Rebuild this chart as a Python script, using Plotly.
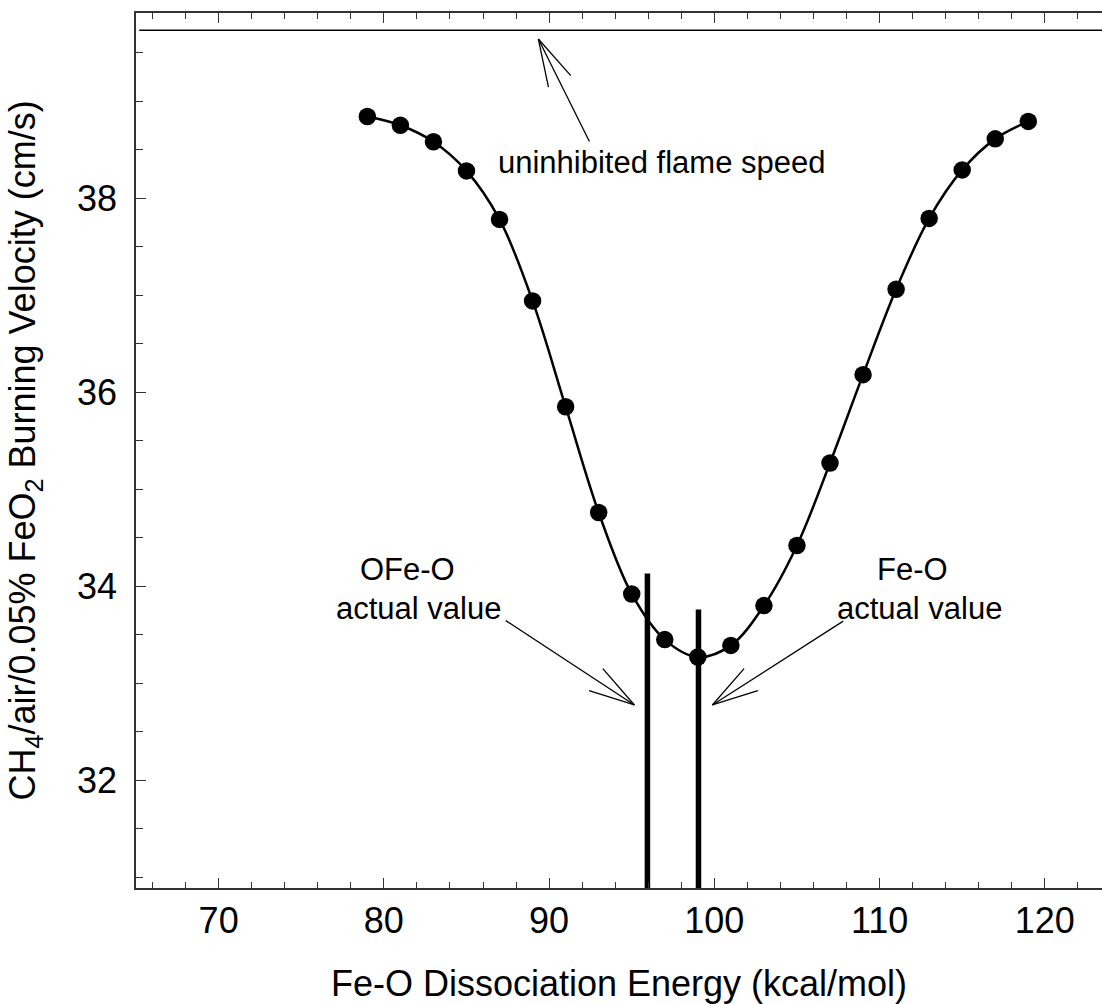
import plotly.graph_objects as go

# ---- data ----
energy = [79, 81, 83, 85, 87, 89, 91, 93, 95, 97, 99, 101, 103, 105, 107, 109, 111, 113, 115, 117, 119]
velocity = [38.84, 38.75, 38.58, 38.28, 37.78, 36.94, 35.85, 34.76, 33.92, 33.45, 33.27,
            33.39, 33.80, 34.42, 35.27, 36.18, 37.06, 37.79, 38.29, 38.61, 38.79]
uninhibited_speed = 39.73
actual_names = ["OFe-O", "Fe-O"]
actual_energy = [95.95, 99.04]
actual_bar_top = [34.13, 33.76]

x_range = [65, 123.46]
y_range = [30.89, 39.907]
x_ticks = [70, 80, 90, 100, 110, 120]
y_ticks = [32, 34, 36, 38]

# annotation geometry (data coords): tail, tip, wing1, wing2
arrows = [
    dict(tail=(87.38, 33.645), tip=(95.16, 32.776), w1=(93.25, 33.15), w2=(92.42, 32.924)),
    dict(tail=(107.80, 33.64), tip=(99.88, 32.776), w1=(101.80, 33.15), w2=(102.63, 32.924)),
    dict(tail=(92.44, 38.583), tip=(89.35, 39.639), w1=(89.96, 39.144), w2=(91.31, 39.261)),
]
labels = [
    ("OFe-O", 81.40, 34.17),
    ("actual value", 82.07, 33.775),
    ("Fe-O", 111.97, 34.17),
    ("actual value", 112.40, 33.775),
    ("uninhibited flame speed", 96.78, 38.364),
]

FONT = "Arial, Liberation Sans, sans-serif"
AX = "#333333"

fig = go.Figure()

# uninhibited flame speed line
fig.add_trace(go.Scatter(x=[65.2, 130], y=[uninhibited_speed, uninhibited_speed], mode="lines",
                         line=dict(color="black", width=1.5), showlegend=False, cliponaxis=True))

# actual-value bars
for xe, top in zip(actual_energy, actual_bar_top):
    fig.add_trace(go.Scatter(x=[xe, xe], y=[y_range[0] - 1, top], mode="lines",
                             line=dict(color="black", width=5.5), showlegend=False))

# curve with points
fig.add_trace(go.Scatter(x=energy, y=velocity, mode="lines+markers",
                         line=dict(color="black", width=2.5, shape="spline", smoothing=1.0),
                         marker=dict(color="black", size=17.5, line=dict(width=0)),
                         showlegend=False))

# arrows
for a in arrows:
    for p in (a["tail"], a["w1"], a["w2"]):
        fig.add_shape(type="line", xref="x", yref="y", x0=p[0], y0=p[1], x1=a["tip"][0], y1=a["tip"][1],
                      line=dict(color="black", width=1.3))

for text, lx, ly in labels:
    fig.add_annotation(x=lx, y=ly, xref="x", yref="y", text=text, showarrow=False,
                       font=dict(family=FONT, size=31, color="black"), xanchor="center", yanchor="middle",
                       borderpad=0)

fig.update_layout(
    width=1102, height=1004,
    margin=dict(l=136, r=0, t=13, b=116),
    paper_bgcolor="white", plot_bgcolor="white",
    font=dict(family=FONT, size=36, color="black"),
)
fig.update_xaxes(
    range=x_range, tickmode="array", tickvals=x_ticks, ticks="inside", ticklen=10, tickwidth=1.3,
    tickcolor=AX, showline=True, linecolor=AX, linewidth=1.5, mirror="ticks", showgrid=False,
    zeroline=False, tickfont=dict(family=FONT, size=36, color="black"), automargin=False,
    minor=dict(dtick=2, tick0=64, ticks="inside", ticklen=6, tickwidth=1.3, tickcolor=AX, showgrid=False),
    title=dict(text="Fe-O Dissociation Energy (kcal/mol)", font=dict(family=FONT, size=36, color="black"),
               standoff=38),
    ticklabelstandoff=0,
)
fig.update_yaxes(
    range=y_range, tickmode="array", tickvals=y_ticks, ticks="inside", ticklen=10, tickwidth=1.3,
    tickcolor=AX, showline=True, linecolor=AX, linewidth=1.5, mirror=False, showgrid=False,
    zeroline=False, tickfont=dict(family=FONT, size=36, color="black"), automargin=False,
    minor=dict(dtick=0.5, tick0=30, ticks="inside", ticklen=7, tickwidth=1.3, tickcolor=AX, showgrid=False),
    title=dict(text="CH<sub>4</sub>/air/0.05% FeO<sub>2</sub> Burning Velocity (cm/s)",
               font=dict(family=FONT, size=36, color="black"), standoff=30),
    ticklabelstandoff=10,
)

fig.write_html("out.html", config={"displayModeBar": False},
               post_script="document.body.style.margin='0px';document.body.style.overflow='hidden';")
